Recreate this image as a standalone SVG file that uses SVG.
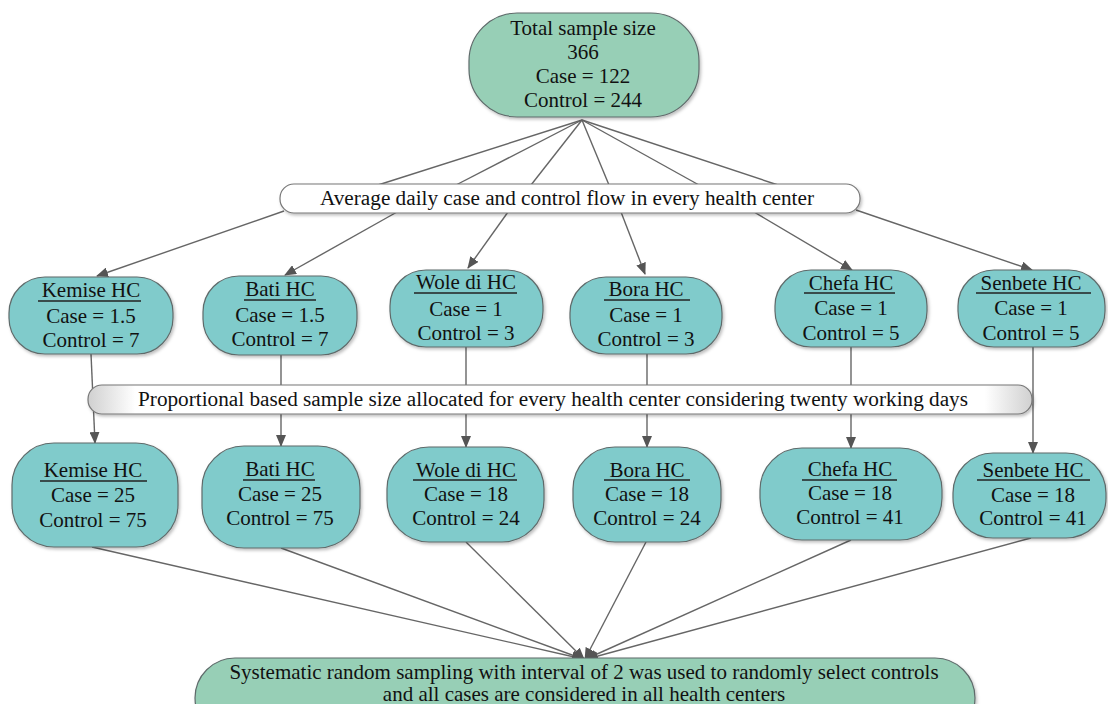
<svg xmlns="http://www.w3.org/2000/svg" width="1108" height="704" viewBox="0 0 1108 704">
<style>
.t{font-family:"Liberation Serif","Times New Roman",serif;font-size:21px;fill:#111;text-anchor:middle}
.b{font-family:"Liberation Serif","Times New Roman",serif;font-size:20px;fill:#111;text-anchor:middle}
.hc{fill:#80CBCB;stroke:#5f6b6b;stroke-width:1.2;filter:url(#sh)}
.gr{fill:#97CFB6;stroke:#5f6b6b;stroke-width:1.2;filter:url(#sh)}
.bar{fill:url(#bg);stroke:#777;stroke-width:1.2;filter:url(#sh)}
.bar1{fill:#ffffff;stroke:#777;stroke-width:1.2;filter:url(#sh)}
.ul{stroke:#222;stroke-width:1.5}
.c{fill:none;stroke:#666;stroke-width:1.4}
.a{marker-end:url(#ar)}
</style>
<defs>
<marker id="ar" markerWidth="12" markerHeight="10" refX="11" refY="5" orient="auto" markerUnits="userSpaceOnUse">
<path d="M0,0 L12,5 L0,10 Z" fill="#555"/>
</marker>
<linearGradient id="bg" x1="0" y1="0" x2="1" y2="0">
<stop offset="0" stop-color="#d0d0d0"/>
<stop offset="0.05" stop-color="#ffffff"/>
<stop offset="0.95" stop-color="#ffffff"/>
<stop offset="1" stop-color="#d0d0d0"/>
</linearGradient>
<filter id="sh" x="-10%" y="-10%" width="120%" height="130%">
<feDropShadow dx="1.5" dy="2" stdDeviation="1.5" flood-color="#000" flood-opacity="0.25"/>
</filter>
</defs>
<rect width="1108" height="704" fill="#fff"/>

<g id="connectors">
<path class="c" d="M582,120 L378,185"/>
<path class="c" d="M582,120 L456,185"/>
<path class="c" d="M582,120 L531,185"/>
<path class="c" d="M582,120 L609,185"/>
<path class="c" d="M582,120 L699,185"/>
<path class="c" d="M582,120 L778,185"/>
<path class="c a" d="M284,211 L97,276"/>
<path class="c a" d="M397,212 L285,275"/>
<path class="c a" d="M508,212 L468,268"/>
<path class="c a" d="M621,212 L645,274"/>
<path class="c a" d="M754,212 L852,270"/>
<path class="c a" d="M856,210 L1032,270"/>
<path class="c a" d="M91,354 L95,443"/>
<path class="c a" d="M281,355 L281,446"/>
<path class="c a" d="M466,347 L466,447"/>
<path class="c a" d="M647,354 L647,447"/>
<path class="c a" d="M851,347 L851,448"/>
<path class="c a" d="M1033,347 L1033,453"/>
<path class="c a" d="M92,547 L583,659"/>
<path class="c a" d="M281,548 L583,659"/>
<path class="c a" d="M466,542 L584,659"/>
<path class="c a" d="M646,542 L585,659"/>
<path class="c a" d="M851,540 L586,659"/>
<path class="c a" d="M1031,538 L587,659"/>
</g>

<g id="total">
<rect class="gr" x="469" y="13" width="230" height="104" rx="48"/>
<text class="t" x="583" y="35">Total sample size</text>
<text class="t" x="583" y="59">366</text>
<text class="t" x="583" y="83">Case = 122</text>
<text class="t" x="583" y="107">Control = 244</text>
</g>

<g id="bar1">
<rect class="bar1" x="280" y="184" width="580" height="29" rx="14"/>
<text class="b" x="567" y="205" textLength="494" lengthAdjust="spacingAndGlyphs">Average daily case and control flow in every health center</text>
</g>

<g id="kemise1">
<rect class="hc" x="9" y="277" width="164" height="77" rx="36"/>
<text class="t" x="91" y="297">Kemise HC</text>
<line class="ul" x1="38" y1="301" x2="141" y2="301"/>
<text class="t" x="91" y="323">Case = 1.5</text>
<text class="t" x="91" y="347">Control = 7</text>
</g>
<g id="bati1">
<rect class="hc" x="203" y="276" width="154" height="79" rx="36"/>
<text class="t" x="280" y="296">Bati HC</text>
<line class="ul" x1="244" y1="300" x2="316" y2="300"/>
<text class="t" x="280" y="322">Case = 1.5</text>
<text class="t" x="280" y="346">Control = 7</text>
</g>
<g id="wole1">
<rect class="hc" x="390" y="270" width="153" height="77" rx="36"/>
<text class="t" x="466" y="289">Wole di HC</text>
<line class="ul" x1="414" y1="293" x2="517" y2="293"/>
<text class="t" x="466" y="316">Case = 1</text>
<text class="t" x="466" y="340">Control = 3</text>
</g>
<g id="bora1">
<rect class="hc" x="570" y="277" width="152" height="77" rx="36"/>
<text class="t" x="646" y="296">Bora HC</text>
<line class="ul" x1="604" y1="300" x2="690" y2="300"/>
<text class="t" x="646" y="322">Case = 1</text>
<text class="t" x="646" y="346">Control = 3</text>
</g>
<g id="chefa1">
<rect class="hc" x="775" y="270" width="152" height="77" rx="36"/>
<text class="t" x="851" y="290">Chefa HC</text>
<line class="ul" x1="804" y1="293" x2="895" y2="293"/>
<text class="t" x="851" y="315">Case = 1</text>
<text class="t" x="851" y="340">Control = 5</text>
</g>
<g id="senbete1">
<rect class="hc" x="958" y="270" width="147" height="77" rx="36"/>
<text class="t" x="1031" y="290">Senbete HC</text>
<line class="ul" x1="976" y1="293" x2="1091" y2="293"/>
<text class="t" x="1031" y="315">Case = 1</text>
<text class="t" x="1031" y="340">Control = 5</text>
</g>

<g id="bar2">
<rect class="bar" x="88" y="385" width="944" height="29" rx="14"/>
<text class="b" x="553" y="406" textLength="830" lengthAdjust="spacingAndGlyphs">Proportional based sample size allocated for every health center considering twenty working days</text>
</g>

<g id="kemise2">
<rect class="hc" x="12" y="443" width="166" height="104" rx="42"/>
<text class="t" x="93" y="477">Kemise HC</text>
<line class="ul" x1="40" y1="481" x2="147" y2="481"/>
<text class="t" x="93" y="502">Case = 25</text>
<text class="t" x="93" y="527">Control = 75</text>
</g>
<g id="bati2">
<rect class="hc" x="202" y="446" width="158" height="102" rx="42"/>
<text class="t" x="280" y="476">Bati HC</text>
<line class="ul" x1="243" y1="480" x2="315" y2="480"/>
<text class="t" x="280" y="501">Case = 25</text>
<text class="t" x="280" y="525">Control = 75</text>
</g>
<g id="wole2">
<rect class="hc" x="387" y="447" width="157" height="95" rx="42"/>
<text class="t" x="466" y="477">Wole di HC</text>
<line class="ul" x1="413" y1="480" x2="517" y2="480"/>
<text class="t" x="466" y="501">Case = 18</text>
<text class="t" x="466" y="525">Control = 24</text>
</g>
<g id="bora2">
<rect class="hc" x="573" y="447" width="148" height="95" rx="42"/>
<text class="t" x="647" y="477">Bora HC</text>
<line class="ul" x1="604" y1="480" x2="690" y2="480"/>
<text class="t" x="647" y="501">Case = 18</text>
<text class="t" x="647" y="525">Control = 24</text>
</g>
<g id="chefa2">
<rect class="hc" x="760" y="448" width="182" height="92" rx="42"/>
<text class="t" x="850" y="476">Chefa HC</text>
<line class="ul" x1="802" y1="480" x2="897" y2="480"/>
<text class="t" x="850" y="500">Case = 18</text>
<text class="t" x="850" y="524">Control = 41</text>
</g>
<g id="senbete2">
<rect class="hc" x="953" y="453" width="153" height="85" rx="40"/>
<text class="t" x="1033" y="477">Senbete HC</text>
<line class="ul" x1="977" y1="480" x2="1090" y2="480"/>
<text class="t" x="1033" y="502">Case = 18</text>
<text class="t" x="1033" y="525">Control = 41</text>
</g>

<g id="final">
<rect class="gr" x="195" y="658" width="780" height="80" rx="40"/>
<text class="t" x="584" y="679">Systematic random sampling with interval of 2 was used to randomly select controls</text>
<text class="t" x="584" y="701">and all cases are considered in all health centers</text>
</g>
</svg>
